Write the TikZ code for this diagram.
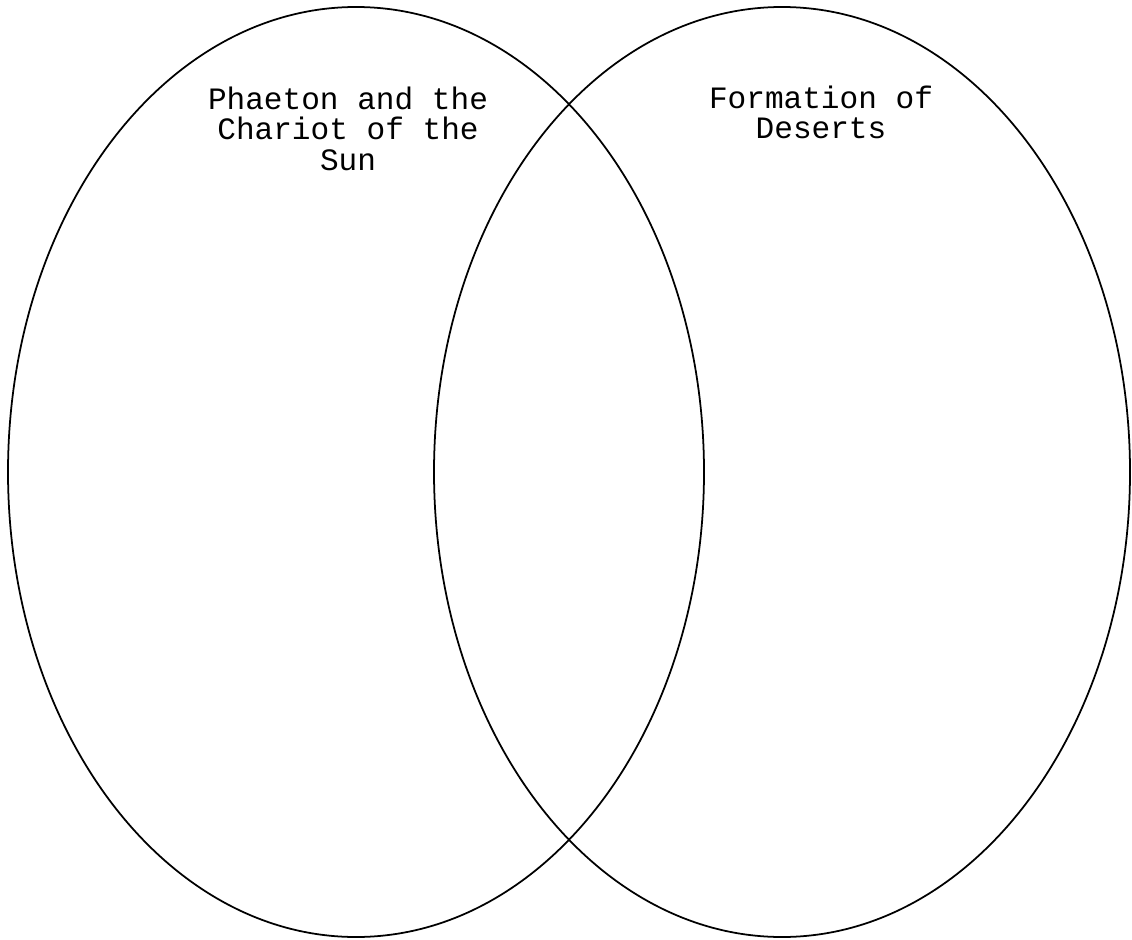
\documentclass[tikz,border=0pt]{standalone}
\usepackage{fontspec}
\setmonofont{Liberation Mono}
\usepackage{tikz}
\usetikzlibrary{positioning, shapes.geometric}

\begin{document}
\begin{tikzpicture}[
  font=\ttfamily\fontsize{17.7pt}{17.4pt}\selectfont,
  setbox/.style={draw, ellipse, line width=1pt, inner sep=0pt, minimum width=13.92cm, minimum height=18.6cm},
  title/.style={align=center, inner sep=0pt}
]

\useasboundingbox (0,0) rectangle (22.64,-18.8);

\node[setbox] (phaeton) at (7.12,-9.44) {};
\node[setbox] (deserts) at (15.64,-9.44) {};

\node[title, below=1.6cm of phaeton.north, xshift=-0.16cm] (phaetontitle) {Phaeton and the\\Chariot of the\\Sun};
\node[title, below=1.58cm of deserts.north, xshift=0.78cm] (desertstitle) {Formation of\\Deserts};

\end{tikzpicture}
\end{document}
